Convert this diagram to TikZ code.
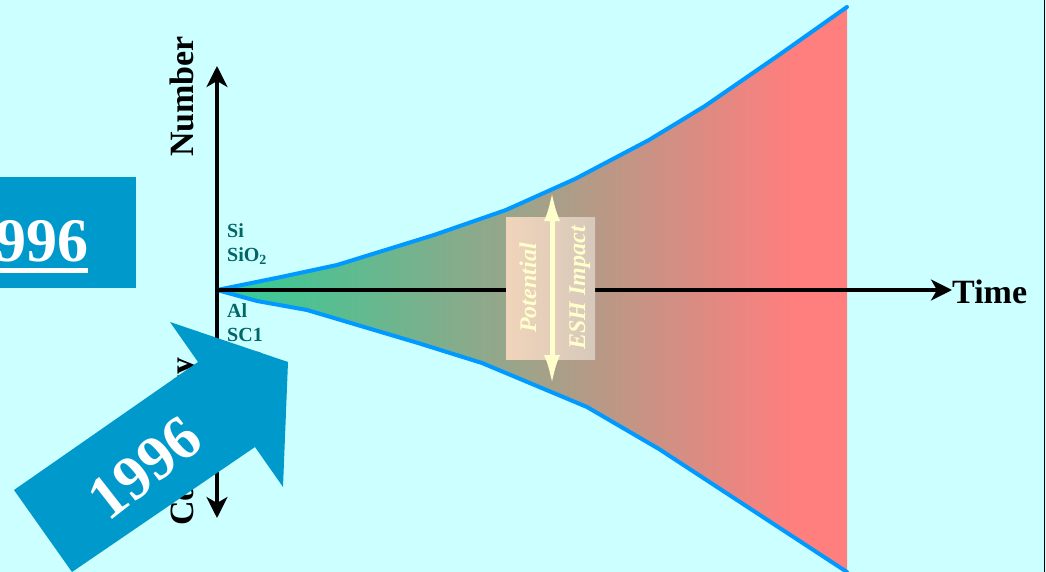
\documentclass[tikz,border=0pt]{standalone}
\usepackage{fontspec}
\setmainfont{Liberation Serif}
\usetikzlibrary{arrows.meta}
\definecolor{bg}{HTML}{CCFFFF}
\definecolor{slideblue}{HTML}{0099CC}
\definecolor{edgeblue}{HTML}{0099FF}
\definecolor{fangreen}{RGB}{60,200,148}
\definecolor{fanpink}{RGB}{255,126,126}
\definecolor{labteal}{HTML}{006666}
\definecolor{cream}{HTML}{FFFFCC}
\definecolor{boxleft}{RGB}{240,212,186}
\definecolor{boxright}{RGB}{214,201,187}
\pgfdeclarehorizontalshading{fanshade}{100bp}{color(0bp)=(fangreen); color(28bp)=(fangreen); color(71bp)=(fanpink); color(100bp)=(fanpink)}
\tikzset{
  axisline/.style={line width=3.5pt, black},
  fanedge/.style={line width=4pt, edgeblue, line join=round, line cap=round},
  matlabel/.style={anchor=base west, inner sep=0pt, text=labteal, font=\bfseries\fontsize{20}{20}\selectfont},
  axislabel/.style={anchor=base west, inner sep=0pt, font=\bfseries\fontsize{34}{34}\selectfont},
  eshtext/.style={rotate=90, anchor=base, inner sep=0pt, text=cream, font=\bfseries\itshape\fontsize{24}{24}\selectfont},
  yeartext/.style={inner sep=0pt, text=white, font=\bfseries\fontsize{62}{62}\selectfont},
}
\begin{document}
\begin{tikzpicture}[x=1pt, y=-1pt]
\useasboundingbox (0,0) rectangle (1046,572);
\clip (0,0) rectangle (1046,572);
\fill[bg] (0,0) rectangle (1046,572);

% fan
\shade[shading=fanshade]
  (217,290) -- (281,277) -- (337,265) -- (434,235) -- (506,210) -- (575,179) -- (649,140) -- (705,106) -- (779,55) -- (847,7)
  -- (847,572) -- (659,449) -- (587,407) -- (482,363) -- (418,343) -- (307,310) -- (257,301) -- cycle;
\draw[fanedge] (217,290) -- (281,277) -- (337,265) -- (434,235) -- (506,210) -- (575,179) -- (649,140) -- (705,106) -- (779,55) -- (847,7);
\draw[fanedge] (217,290) -- (257,301) -- (307,310) -- (418,343) -- (482,363) -- (587,407) -- (659,449) -- (847,572);

% axes
\coordinate (O) at (217,290);
\coordinate (ytop) at (217,66);
\coordinate (ybot) at (217,518);
\coordinate (xend) at (952,290);
\draw[axisline, {Stealth[length=21pt,width=21pt,inset=6pt]}-{Stealth[length=21pt,width=21pt,inset=6pt]}] (ytop) -- (ybot);
\draw[axisline] (O) -- (507,290);
\draw[axisline, -{Stealth[length=21pt,width=21pt,inset=6pt]}] (594,290) -- (xend);

% axis labels
\node[axislabel, rotate=90] (num) at (193,157) {Number};
\node[axislabel, rotate=90] (cplx) at (193,526) {Complexity};
\node[axislabel] (time) at (952,303) {Time};

% material labels
\node[matlabel] (si) at (227,237) {Si};
\node[matlabel] (sio) at (227,261) {SiO\textsubscript{2}};
\node[matlabel] (al) at (227,317) {Al};
\node[matlabel] (sc1) at (227,341) {SC1};
\node[matlabel] (sc2) at (227,365) {SC2};

% ESH impact box
\shade[left color=boxleft, right color=boxright] (506,217) rectangle (595,359);
\coordinate (atop) at (552,191);
\coordinate (abot) at (552,385);
\draw[cream, line width=5pt, {Latex[length=30pt,width=16pt]}-{Latex[length=30pt,width=16pt]}] (atop) -- (abot);
\node[eshtext] (pot) at (536,288) {Potential};
\node[eshtext] (esh) at (585,288) {ESH Impact};

% top-left year box
\fill[slideblue] (-10,177) rectangle (136,288);
\node[yeartext, anchor=base east] (yr1) at (89,261) {1996};
\fill[white] (-10,268) rectangle (88,273);

% big arrow
\fill[slideblue] (14,490) -- (198,362) -- (170,322) -- (288,362) -- (283,487) -- (255,447) -- (72,572) -- cycle;
\node[yeartext, rotate=38] (yr2) at (145,468) {1996};

% right border line
\draw[line width=1pt, black] (1044.5,0) -- (1044.5,572);
\end{tikzpicture}
\end{document}
